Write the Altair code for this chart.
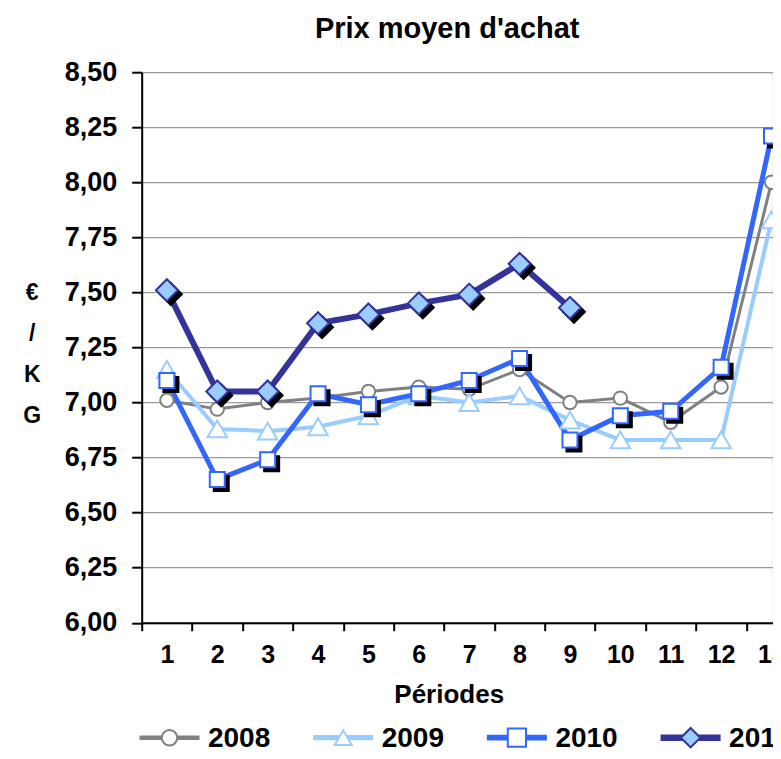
import altair as alt
import pandas as pd

# ---- data ----
periods = list(range(1, 14))
years = ["2008", "2009", "2010", "2011"]
p2008 = [7.01, 6.97, 7.00, 7.02, 7.05, 7.07, 7.06, 7.15, 7.00, 7.02, 6.91, 7.07, 8.00]
p2009 = [7.15, 6.88, 6.87, 6.89, 6.94, 7.03, 7.00, 7.03, 6.92, 6.83, 6.83, 6.83, 7.83]
p2010 = [7.10, 6.65, 6.74, 7.04, 6.99, 7.04, 7.10, 7.20, 6.83, 6.94, 6.96, 7.16, 8.21]
p2011 = [7.51, 7.05, 7.05, 7.36, 7.40, 7.45, 7.49, 7.63, 7.43, None, None, None, None]
y_ticks = [6.00, 6.25, 6.50, 6.75, 7.00, 7.25, 7.50, 7.75, 8.00, 8.25, 8.50]

rows = []
for yr, vals in zip(years, [p2008, p2009, p2010, p2011]):
    for p, v in zip(periods, vals):
        if v is not None:
            rows.append({"period": p, "year": yr, "price": v})
df = pd.DataFrame(rows)
leg_df = pd.DataFrame({"year": years, "slot": list(range(len(years)))})

FONT = "Liberation Sans"
line_colors = ["#808080", "#99CCFF", "#3366FF", "#333399"]
line_widths = [3, 6, 5, 5]
legend_line_widths = [4.5, 6.5, 5, 6]
marker_shapes = ["circle", "triangle-up", "square", "diamond"]
legend_marker_sizes = [240, 380, 300, 440]
marker_fills = ["white", "white", "white", "#99CCFF"]

# legend layout (pixels, relative to the plot area)
LEG_X0, LEG_STEP, LEG_Y, LEG_HALF = 27.8, 173.7, 665.5, 30

x_enc = alt.X(
    "period:O",
    scale=alt.Scale(type="band", range=[0, 655], paddingInner=0, paddingOuter=0),
    axis=alt.Axis(
        labelAngle=0, labelFont=FONT, labelFontSize=25, labelFontWeight="bold",
        labelColor="black", labelPadding=12,
        tickBand="extent", tickSize=8, tickWidth=2, tickColor="black",
        domainColor="black", domainWidth=2, grid=False,
        title="Périodes", titleFont=FONT, titleFontSize=26, titleFontWeight="bold",
        titleColor="black", titleX=307, titleY=80, titleBaseline="alphabetic",
        titleAlign="center",
    ),
)
y_enc = alt.Y(
    "price:Q",
    scale=alt.Scale(domain=[6, 8.5], nice=False, zero=False),
    axis=alt.Axis(
        values=y_ticks,
        labelExpr="replace(format(datum.value, '.2f'), '.', ',')",
        labelFont=FONT, labelFontSize=27, labelFontWeight="bold", labelColor="black",
        labelPadding=15, tickSize=10, tickWidth=2, tickColor="black",
        domainColor="black", domainWidth=2,
        grid=True, gridColor="#9a9a9a", gridWidth=1.2,
        title=["€", "/", "K", "G"], titleAngle=0, titleFont=FONT, titleFontSize=23,
        titleFontWeight="bold", titleColor="black", titleLineHeight=41,
        titleX=-110, titleY=209, titleBaseline="top", titleAlign="center",
    ),
)

color_enc = alt.Color("year:N", scale=alt.Scale(domain=years, range=line_colors), legend=None)

base = alt.Chart(df)

lines = base.mark_line(strokeJoin="miter").encode(
    x=x_enc, y=y_enc, color=color_enc,
    strokeWidth=alt.StrokeWidth("year:N", scale=alt.Scale(domain=years, range=line_widths), legend=None),
    order=alt.Order("period:O"),
)

def markers(yr, shape, size, fill, stroke):
    return base.transform_filter(alt.datum.year == yr).mark_point(
        shape=shape, size=size, filled=True, fill=fill, stroke=stroke,
        strokeWidth=2, opacity=1,
    ).encode(x=x_enc, y=y_enc)

def shadow(yr, shape, size):
    return base.transform_filter(alt.datum.year == yr).mark_point(
        shape=shape, size=size, filled=True, fill="black", stroke="black",
        strokeWidth=2, opacity=1, xOffset=4, yOffset=4,
    ).encode(x=x_enc, y=y_enc)

# ---- legend drawn below the axis title ----
leg_base = alt.Chart(leg_df).transform_calculate(
    lx=f"{LEG_X0} + datum.slot * {LEG_STEP}",
    lx1=f"{LEG_X0} + datum.slot * {LEG_STEP} - {LEG_HALF}",
    lx2=f"{LEG_X0} + datum.slot * {LEG_STEP} + {LEG_HALF}",
    tx=f"{LEG_X0} + datum.slot * {LEG_STEP} + {LEG_HALF + 8.5}",
)
leg_lines = leg_base.mark_rule().encode(
    x=alt.X("lx1:Q", scale=None, axis=None), x2="lx2:Q",
    y=alt.value(LEG_Y), color=color_enc,
    strokeWidth=alt.StrokeWidth("year:N", scale=alt.Scale(domain=years, range=legend_line_widths), legend=None),
)
leg_marks = leg_base.mark_point(filled=True, strokeWidth=2, opacity=1).encode(
    x=alt.X("lx:Q", scale=None, axis=None), y=alt.value(LEG_Y),
    shape=alt.Shape("year:N", scale=alt.Scale(domain=years, range=marker_shapes), legend=None),
    size=alt.Size("year:N", scale=alt.Scale(domain=years, range=legend_marker_sizes), legend=None),
    fill=alt.Fill("year:N", scale=alt.Scale(domain=years, range=marker_fills), legend=None),
    stroke=alt.Stroke("year:N", scale=alt.Scale(domain=years, range=line_colors), legend=None),
)
leg_text = leg_base.mark_text(
    align="left", baseline="middle", font=FONT, fontSize=28, fontWeight="bold",
    color="black",
).encode(
    x=alt.X("tx:Q", scale=None, axis=None), y=alt.value(LEG_Y + 1.5),
    text="year:N",
)

chart = alt.layer(
    lines,
    markers("2008", "circle", 180, "white", line_colors[0]),
    markers("2009", "triangle-up", 380, "white", line_colors[1]),
    shadow("2010", "square", 225),
    markers("2010", "square", 225, "white", line_colors[2]),
    shadow("2011", "diamond", 480),
    markers("2011", "diamond", 480, "#99CCFF", line_colors[3]),
    leg_lines, leg_marks, leg_text,
).resolve_scale(
    strokeWidth="independent",
).properties(
    width=631, height=550.5,
    autosize=alt.AutoSizeParams(type="none"),
    padding={"left": 133.7, "top": 64.2, "right": 0, "bottom": 128.3},
    title=alt.TitleParams(
        text="Prix moyen d'achat", font=FONT, fontSize=29, fontWeight="bold",
        color="black", anchor="middle", frame="group", offset=14, dx=-10,
    ),
).configure_view(stroke=None).configure(background="white")

chart.save("out.html", embed_options={"renderer": "svg", "actions": False})
